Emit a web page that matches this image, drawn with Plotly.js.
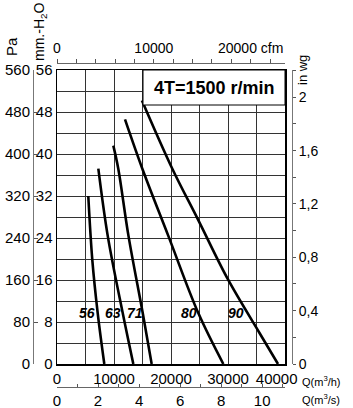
<!DOCTYPE html>
<html><head><meta charset="utf-8">
<script src="https://cdn.plot.ly/plotly-3.0.1.min.js"></script>
<style>html,body{margin:0;padding:0;background:#fff}#chart{width:353px;height:408px}</style>
</head><body><div id="chart"></div>
<script>
// Fan curves: flow Q (m3/h) vs static pressure (mm H2O)
const fanSizes = ['56', '63', '71', '80', '90'];
const q56 = [5490, 6190, 7140, 8300];
const p56 = [32.0, 19.9, 9.7, 0];
const q63 = [7250, 8900, 11530, 13390];
const p63 = [37.2, 24.4, 9.7, 0];
const q71 = [9880, 10750, 12540, 15040, 16610];
const p71 = [41.6, 37.2, 24.4, 9.7, 0];
const q80 = [11930, 14970, 19530, 24790, 29180];
const p80 = [46.6, 37.2, 24.4, 9.7, 0];
const q90 = [14900, 20230, 24700, 30000, 35530, 38770];
const p90 = [50.2, 37.2, 27.6, 16.1, 5.9, 0];
const labelQ = [5320, 9900, 13680, 23160, 31350];
const labelP = [9.8, 9.8, 9.8, 9.8, 9.8];
const titleText = '4T=1500 r/min';

const mmGrid = [0,4,8,12,16,20,24,28,32,36,40,44,48,52,56];
const mmLabels = ['0','','8','','16','','24','','32','','40','','48','','56'];
const paTicks = [0,80,160,240,320,400,480,560];
const wgTicks = [0,0.2,0.4,0.6,0.8,1.0,1.2,1.4,1.6,1.8,2.0,2.2];
const wgLabels = ['0','','0,4','','0,8','','1,2','','1,6','','2',''];
const qGrid = [0,5000,10000,15000,20000,25000,30000,35000,40000];
const qLabels = ['0','','10000','','20000','','30000','','40000\u00a0\u00a0\u00a0\u00a0'];
const cfmTicks = [0,2000,4000,6000,8000,10000,12000,14000,16000,18000,20000,22000];
const cfmLabels = ['0','','','','','10000','','','','','20000 cfm',''];
const m3sTicks = [0,1,2,3,4,5,6,7,8,9,10,11];
const m3sLabels = ['0','','2','','4','','6','','8','','10',''];

// unit conversions for the secondary scales
const M3H_PER_CFM = 1.69901, M3H_PER_M3S = 3600, PA_PER_MM = 10, MM_PER_INWG = 25.4;

const W = 353, H = 408;
const L = 57, R = 285, T = 70, B = 364;
const px = v => v / W, py = v => 1 - v / H;
const font = 'Liberation Sans, Arial, Helvetica, sans-serif';

const series = [[q56,p56],[q63,p63],[q71,p71],[q80,p80],[q90,p90]];
const traces = series.map((s, i) => ({
  x: s[0], y: s[1], name: fanSizes[i], type: 'scatter', mode: 'lines',
  line: {color: '#000', width: 2.6, shape: 'spline', smoothing: 1},
  xaxis: 'x', yaxis: 'y', hoverinfo: 'skip', showlegend: false
}));
// same largest curve expressed in the secondary units (transparent) so those scales are drawn
traces.push({x: q90.map(q => q / M3H_PER_CFM), y: p90.map(p => p * PA_PER_MM), xaxis: 'x2', yaxis: 'y2',
  type: 'scatter', mode: 'lines', line: {width: 0, color: 'rgba(0,0,0,0)'}, opacity: 0, hoverinfo: 'skip', showlegend: false});
traces.push({x: q90.map(q => q / M3H_PER_M3S), y: p90.map(p => p / MM_PER_INWG), xaxis: 'x3', yaxis: 'y3',
  type: 'scatter', mode: 'lines', line: {width: 0, color: 'rgba(0,0,0,0)'}, opacity: 0, hoverinfo: 'skip', showlegend: false});

const annotations = fanSizes.map((s, i) => ({
  x: labelQ[i], y: labelP[i], xref: 'x', yref: 'y', xanchor: 'center', yanchor: 'middle',
  text: '<b><i>' + s + '</i></b>', showarrow: false, font: {family: font, size: 14, color: '#000'}
}));
const pa = (x, y, text, size, extra) => Object.assign({x: px(x), y: py(y), xref: 'paper', yref: 'paper',
  xanchor: 'center', yanchor: 'middle', text: text, showarrow: false, font: {family: font, size: size, color: '#000'}}, extra || {});
annotations.push(
  pa(214, 88, '<b>' + titleText + '</b>', 18),
  pa(11, 47, 'Pa', 15, {textangle: -90}),
  pa(40, 32, 'mm.-H<sub>2</sub>O', 14, {textangle: -90}),
  pa(302, 70, 'in wg', 13, {textangle: -90}),
  pa(300, 381, 'Q(m<sup>3</sup>/h)', 11, {xanchor: 'left'}),
  pa(300, 399, 'Q(m<sup>3</sup>/s)', 11, {xanchor: 'left'})
);

const tf = {family: font, size: 14, color: '#000'};
const tf15 = {family: font, size: 15, color: '#000'};
const layout = {
  width: W, height: H, margin: {l: 0, r: 0, t: 0, b: 0},
  paper_bgcolor: '#fff', plot_bgcolor: '#fff', showlegend: false,
  xaxis: {domain: [px(L), px(R)], range: [0, 40000], anchor: 'y', tickmode: 'array', tickvals: qGrid, ticktext: qLabels,
    showgrid: true, gridcolor: '#333', gridwidth: 1, showline: true, mirror: true, linecolor: '#000', linewidth: 1.5,
    ticks: '', zeroline: false, tickfont: tf15, automargin: false, fixedrange: true},
  yaxis: {domain: [py(B), py(T)], range: [0, 56], anchor: 'x', tickmode: 'array', tickvals: mmGrid, ticktext: mmLabels,
    showgrid: true, gridcolor: '#333', gridwidth: 1, showline: true, mirror: true, linecolor: '#000', linewidth: 1.5,
    ticks: '', zeroline: false, tickfont: tf15, automargin: false, fixedrange: true},
  xaxis2: {overlaying: 'x', anchor: 'free', position: py(63), side: 'top', range: [0, 40000 / M3H_PER_CFM],
    tickmode: 'array', tickvals: cfmTicks, ticktext: cfmLabels, ticks: 'outside', ticklen: 4, tickcolor: '#555',
    showline: true, linecolor: '#666', linewidth: 1, showgrid: false, zeroline: false, tickfont: tf, automargin: false, fixedrange: true},
  xaxis3: {overlaying: 'x', anchor: 'free', position: py(387), side: 'bottom', range: [0, 40000 / M3H_PER_M3S],
    tickmode: 'array', tickvals: m3sTicks, ticktext: m3sLabels, ticks: 'inside', ticklen: 3, tickcolor: '#555',
    showline: true, linecolor: '#666', linewidth: 1, showgrid: false, zeroline: false, tickfont: tf15, automargin: false, fixedrange: true},
  yaxis2: {overlaying: 'y', anchor: 'free', position: px(33), side: 'left', range: [0, 56 * PA_PER_MM],
    tickmode: 'array', tickvals: paTicks, ticks: 'inside', ticklen: 4, tickcolor: '#555',
    showline: true, linecolor: '#777', linewidth: 1, showgrid: false, zeroline: false, tickfont: tf15, automargin: false, fixedrange: true},
  yaxis3: {overlaying: 'y', anchor: 'free', position: px(292), side: 'right', range: [0, 56 / MM_PER_INWG],
    tickmode: 'array', tickvals: wgTicks, ticktext: wgLabels, ticks: 'outside', ticklen: 3, tickcolor: '#555',
    showline: true, linecolor: '#777', linewidth: 1, showgrid: false, zeroline: false, tickfont: tf, automargin: false, fixedrange: true},
  shapes: [{type: 'rect', xref: 'paper', yref: 'paper', x0: px(143), x1: px(R), y0: py(105), y1: py(T),
    fillcolor: '#fff', line: {color: '#000', width: 1}, layer: 'above'}],
  annotations: annotations
};

Plotly.newPlot('chart', traces, layout, {staticPlot: true, displayModeBar: false});
</script>
</body></html>
